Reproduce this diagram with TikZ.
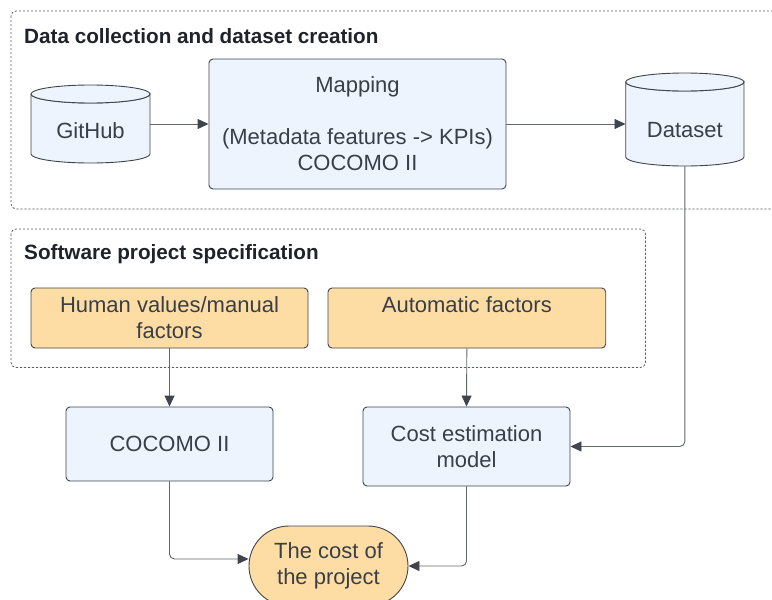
\documentclass[tikz,border=0pt]{standalone}
\usepackage{fontspec}
\setmainfont{Liberation Sans}
\usetikzlibrary{arrows.meta}
\definecolor{bluef}{HTML}{EDF4FE}
\definecolor{orf}{HTML}{FDDDA4}
\definecolor{edge}{HTML}{3F444D}
\definecolor{txt}{HTML}{3A3F47}
\definecolor{conn}{HTML}{62676F}
\definecolor{grp}{HTML}{5A5D62}
\definecolor{ttl}{HTML}{1F2329}
\begin{document}
\begin{tikzpicture}[x=1pt,y=-1pt,
  lbl/.style={text=txt,font=\fontsize{22}{26}\selectfont,align=center,inner sep=0pt},
  box/.style={lbl,draw=edge,line width=0.9pt,rounded corners=4pt},
  bluebox/.style={box,fill=bluef},
  orbox/.style={box,fill=orf},
  grpbox/.style={draw=grp,line width=0.8pt,dash pattern=on 2.2pt off 1.8pt,rounded corners=5pt},
  grptitle/.style={text=ttl,font=\fontsize{20.7}{24}\selectfont\bfseries,anchor=west,inner sep=0pt},
  cylbody/.style={draw=edge,line width=0.9pt,fill=bluef},
  arr/.style={draw=conn,line width=0.9pt,-{Triangle[length=11pt,width=10pt,color=edge]}},
  arrr/.style={arr,rounded corners=5pt}]
\useasboundingbox (0,0) rectangle (772,600);
\clip (0,0) rectangle (772,600);

% group boxes
\draw[grpbox] (11,11) rectangle (790,209);
\node[grptitle] (t1) at (24,36) {Data collection and dataset creation};
\draw[grpbox] (11,229) rectangle (645.5,367.5);
\node[grptitle] (t2) at (24,254) {Software project specification};

% GitHub cylinder
\draw[cylbody] (31,94) -- (31,154) arc[start angle=180,end angle=0,x radius=59.5,y radius=9] -- (150,94) arc[start angle=0,end angle=180,x radius=59.5,y radius=9];
\draw[cylbody] (90.5,94) ellipse[x radius=59.5,y radius=9];
\node[minimum width=119pt,minimum height=78pt,inner sep=0pt] (github) at (90.5,124) {};
\node[lbl] (githubtxt) at (90.5,131) {GitHub};

% Dataset cylinder
\draw[cylbody] (625.7,82) -- (625.7,157) arc[start angle=180,end angle=0,x radius=59.15,y radius=9] -- (744,82) arc[start angle=0,end angle=180,x radius=59.15,y radius=9];
\draw[cylbody] (684.85,82) ellipse[x radius=59.15,y radius=9];
\node[minimum width=118.3pt,minimum height=93pt,inner sep=0pt] (dataset) at (684.85,119.5) {};
\node[lbl] (datasettxt) at (684.85,130) {Dataset};

% Mapping
\node[bluebox,minimum width=297pt,minimum height=130pt] (map) at (357.5,124)
  {Mapping\\ \mbox{}\\(Metadata features -> KPIs)\\COCOMO II};

% Spec boxes
\node[orbox,minimum width=277pt,minimum height=60pt] (human) at (169.5,318) {Human values/manual\\factors};
\node[orbox,minimum width=277.7pt,minimum height=60pt] (auto) at (466.85,318) {Automatic factors\\ \mbox{}};

% models
\node[bluebox,minimum width=207pt,minimum height=74pt] (cocomo) at (169.5,444) {COCOMO II};
\node[bluebox,minimum width=207pt,minimum height=79pt] (cost) at (466.5,446.5) {Cost estimation\\model};

% result
\node[box,fill=orf,rounded corners=40pt,minimum width=159pt,minimum height=80pt] (res) at (328.5,566) {The cost of\\the project};

% connectors
\draw[arr] (github.east) -- (map.west);
\draw[arr] (map.east |- github.east) -- (github.east -| dataset.west);
\draw[arrr] (dataset.south) |- (cost.east);
\draw[arr] (human.south) -- (cocomo.north);
\draw[arr] (auto.south) -- (cost.north);
\draw[arrr] (cocomo.south) |- ([yshift=7pt]res.west);
\draw[arrr] (cost.south) |- (res.east);
\end{tikzpicture}
\end{document}
